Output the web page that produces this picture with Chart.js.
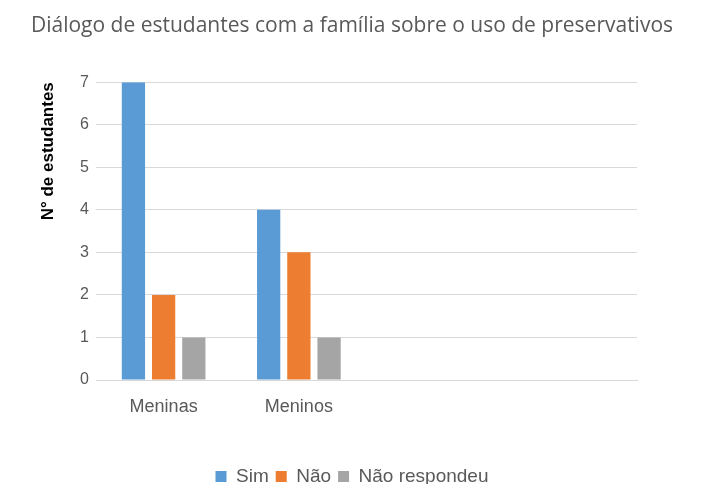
<!DOCTYPE html>
<html>
<head>
<meta charset="utf-8">
<script src="https://cdn.jsdelivr.net/npm/chart.js@4"></script>
<style>
  body { margin:0; background:#fff; }
  #wrap { width:704px; height:484px; }
</style>
</head>
<body>
<div id="wrap"><canvas id="dialogoChart" width="704" height="484"></canvas></div>
<script>
/* ---------- DATA ---------- */
const categorias = ["Meninas", "Meninos", "", ""];
const sim = [7, 4];
const nao = [2, 3];
const naoRespondeu = [1, 1];
const yTicks = [0, 1, 2, 3, 4, 5, 6, 7];

/* ---------- CHART ---------- */
try {
  new Chart(document.getElementById("dialogoChart"), {
    type: 'bar',
    data: {
      labels: categorias,
      datasets: [
        { label: "Sim", data: sim, backgroundColor: "#5b9bd5" },
        { label: "Não", data: nao, backgroundColor: "#ed7d31" },
        { label: "Não respondeu", data: naoRespondeu, backgroundColor: "#a5a5a5" }
      ]
    },
    options: {
      responsive: false,
      animation: false,
      categoryPercentage: 0.67,
      barPercentage: 0.77,
      layout: { padding: { left: 0, right: 0, top: 0, bottom: -12 } },
      plugins: {
        title: {
          display: true,
          text: "Diálogo de estudantes com a família sobre o uso de preservativos",
          color: "#595959",
          font: { family: "'Open Sans'", size: 21, weight: 'normal' },
          padding: { top: 13, bottom: 44 }
        },
        legend: {
          position: 'bottom',
          labels: {
            color: "#595959",
            font: { family: "'Liberation Sans'", size: 19 },
            boxWidth: 11, boxHeight: 11, padding: 7
          }
        },
        tooltip: { enabled: false }
      },
      scales: {
        x: {
          grid: { display: false },
          border: { color: "#d9d9d9" },
          ticks: {
            color: "#595959",
            font: { family: "'Liberation Sans'", size: 18 },
            padding: 8
          },
          afterFit: (axis) => { axis.height = 80; }
        },
        y: {
          min: 0, max: 7,
          afterBuildTicks: (axis) => { axis.ticks = yTicks.map(v => ({ value: v })); },
          afterFit: (axis) => { axis.width = 96; },
          grid: { color: "#d9d9d9", drawTicks: false },
          border: { display: false },
          ticks: {
            color: "#595959",
            font: { family: "'Liberation Sans'", size: 16 },
            padding: 7
          },
          title: {
            display: true,
            text: "N° de estudantes",
            align: 'end',
            color: "#000",
            font: { family: "'Liberation Sans'", size: 17, weight: 'bold' },
            padding: { top: 38, bottom: 0 }
          }
        },
        margemDireita: {
          position: 'right',
          display: true,
          grid: { display: false },
          border: { display: false },
          ticks: { display: false },
          afterFit: (axis) => { axis.width = 67; }
        }
      }
    }
  });
} catch (e) {
  console.error('Error initializing chart:', e);
}
</script>
</body>
</html>
